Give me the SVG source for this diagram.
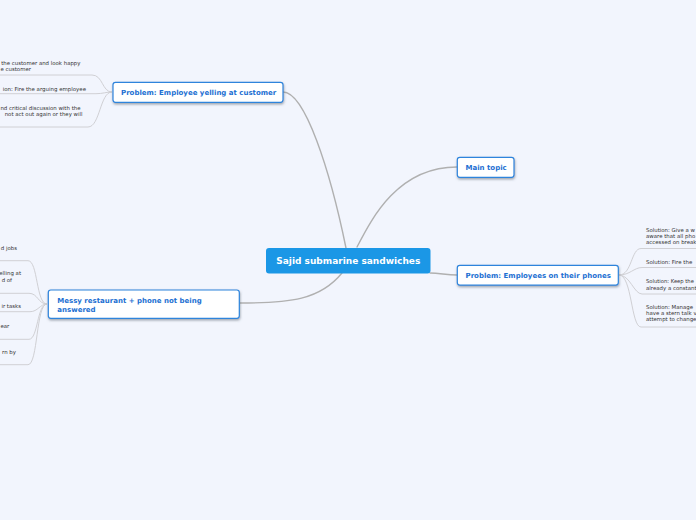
<svg xmlns="http://www.w3.org/2000/svg" width="696" height="520" viewBox="0 0 696 520">
  <defs>
    <filter id="sh" x="-10%" y="-30%" width="120%" height="180%">
      <feDropShadow dx="0.5" dy="1.5" stdDeviation="0.8" flood-color="#5a6470" flood-opacity="0.55"/>
    </filter>
  </defs>
  <style>
    .bg{fill:#f2f5fd}
    .node rect{fill:#ffffff;stroke:#2d84dc;stroke-width:1.2}
    .node text{font-family:"DejaVu Sans",Verdana,sans-serif;font-weight:bold;font-size:7px;fill:#1c6fd2}
    .root rect{fill:#1b97e6}
    .root text{font-family:"DejaVu Sans",Verdana,sans-serif;font-weight:bold;font-size:9px;fill:#ffffff}
    .main{fill:none;stroke:#b0b0b0;stroke-width:1.4;stroke-linecap:round}
    .leafline{fill:none;stroke:#d0d0d4;stroke-width:1}
    .leaf text{font-family:"DejaVu Sans",Verdana,sans-serif;font-size:5.4px;fill:#333333}
  </style>
  <rect class="bg" x="0" y="0" width="696" height="520"/>

  <g id="connectors">
    <path class="main" d="M283,92 C305,92 330,170 346,248"/>
    <path class="main" d="M357,247 C372,218 398,167 457,167"/>
    <path class="main" d="M430,273 C440,273 446,275 457,275"/>
    <path class="main" d="M342,273 C320,300 290,303 240,303"/>
    <path class="leafline" d="M0,75 H92 C103,75 102,92 112,92"/>
    <path class="leafline" d="M0,93.7 H96 C103,93.7 106,92 112,92"/>
    <path class="leafline" d="M0,127 H88 C100,127 100,92 112,92"/>
    <path class="leafline" d="M0,260.7 H28 C38,260.7 36,304 47,304"/>
    <path class="leafline" d="M0,293.3 H29 C38,293.3 38,304 47,304"/>
    <path class="leafline" d="M0,311.7 H30 C38,311.7 40,304 47,304"/>
    <path class="leafline" d="M0,339.3 H29 C38,339.3 37,304 47,304"/>
    <path class="leafline" d="M0,364.7 H28 C38,364.7 36,304 47,304"/>
    <path class="leafline" d="M696,248.5 H641 C631,248.5 632,275 619,275"/>
    <path class="leafline" d="M696,267.5 H642 C634,267.5 630,275 619,275"/>
    <path class="leafline" d="M696,294 H642 C634,294 630,275 619,275"/>
    <path class="leafline" d="M696,327 H641 C631,327 632,275 619,275"/>
  </g>

  <g id="root" class="root">
    <rect x="266" y="248" width="164.5" height="25.5" rx="3"/>
    <text x="348.3" y="264" text-anchor="middle">Sajid submarine sandwiches</text>
  </g>

  <g id="node-yelling" class="node">
    <rect x="113" y="82.3" width="170" height="20" rx="2.5" filter="url(#sh)"/>
    <text x="121" y="95">Problem: Employee yelling at customer</text>
  </g>

  <g id="node-main" class="node">
    <rect x="457.3" y="157.3" width="56.7" height="20" rx="2.5" filter="url(#sh)"/>
    <text x="465.5" y="170">Main topic</text>
  </g>

  <g id="node-phones" class="node">
    <rect x="457.3" y="265.3" width="161" height="19.8" rx="2.5" filter="url(#sh)"/>
    <text x="465.5" y="278.3">Problem: Employees on their phones</text>
  </g>

  <g id="node-messy" class="node">
    <rect x="48.3" y="290" width="191" height="28.3" rx="2.5" filter="url(#sh)"/>
    <text x="57.3" y="302.5">Messy restaurant + phone not being</text>
    <text x="57.3" y="311.5">answered</text>
  </g>

  <g id="leaf-y1" class="leaf">
    <text x="1.2" y="65" textLength="79.3" lengthAdjust="spacingAndGlyphs">the customer and look happy</text>
    <text x="0.5" y="71" textLength="30.5" lengthAdjust="spacingAndGlyphs">e customer</text>
  </g>
  <g id="leaf-y2" class="leaf">
    <text x="2.7" y="91" textLength="83.3" lengthAdjust="spacingAndGlyphs">ion: Fire the arguing employee</text>
  </g>
  <g id="leaf-y3" class="leaf">
    <text x="0.4" y="109.8" textLength="80.1" lengthAdjust="spacingAndGlyphs">nd critical discussion with the</text>
    <text x="4.7" y="116.3" textLength="77.8" lengthAdjust="spacingAndGlyphs">not act out again or they will</text>
  </g>

  <g id="leaf-m1" class="leaf">
    <text x="0.8" y="249.7" textLength="16.2" lengthAdjust="spacingAndGlyphs">d jobs</text>
  </g>
  <g id="leaf-m2" class="leaf">
    <text x="-0.8" y="275.3" textLength="21.8" lengthAdjust="spacingAndGlyphs">elling at</text>
    <text x="1.7" y="281.8" textLength="10.3" lengthAdjust="spacingAndGlyphs">d of</text>
  </g>
  <g id="leaf-m3" class="leaf">
    <text x="1.4" y="308.3" textLength="19.6" lengthAdjust="spacingAndGlyphs">ir tasks</text>
  </g>
  <g id="leaf-m4" class="leaf">
    <text x="0.4" y="327.7" textLength="8.9" lengthAdjust="spacingAndGlyphs">ear</text>
  </g>
  <g id="leaf-m5" class="leaf">
    <text x="2" y="354" textLength="14" lengthAdjust="spacingAndGlyphs">rn by</text>
  </g>

  <g id="leaf-p1" class="leaf">
    <text x="646" y="231.7" textLength="48.9" lengthAdjust="spacingAndGlyphs">Solution: Give a w</text>
    <text x="646" y="237.9" textLength="49.2" lengthAdjust="spacingAndGlyphs">aware that all pho</text>
    <text x="646" y="244.1" textLength="50.5" lengthAdjust="spacingAndGlyphs">accessed on break</text>
  </g>
  <g id="leaf-p2" class="leaf">
    <text x="646" y="263.5" textLength="46.3" lengthAdjust="spacingAndGlyphs">Solution: Fire the</text>
  </g>
  <g id="leaf-p3" class="leaf">
    <text x="646" y="283.3" textLength="47.9" lengthAdjust="spacingAndGlyphs">Solution: Keep the</text>
    <text x="646" y="289.5" textLength="50.5" lengthAdjust="spacingAndGlyphs">already a constant</text>
  </g>
  <g id="leaf-p4" class="leaf">
    <text x="646" y="309" textLength="47" lengthAdjust="spacingAndGlyphs">Solution: Manage</text>
    <text x="646" y="315.2" textLength="50.6" lengthAdjust="spacingAndGlyphs">have a stern talk v</text>
    <text x="646" y="321.4" textLength="50.4" lengthAdjust="spacingAndGlyphs">attempt to change</text>
  </g>
</svg>
